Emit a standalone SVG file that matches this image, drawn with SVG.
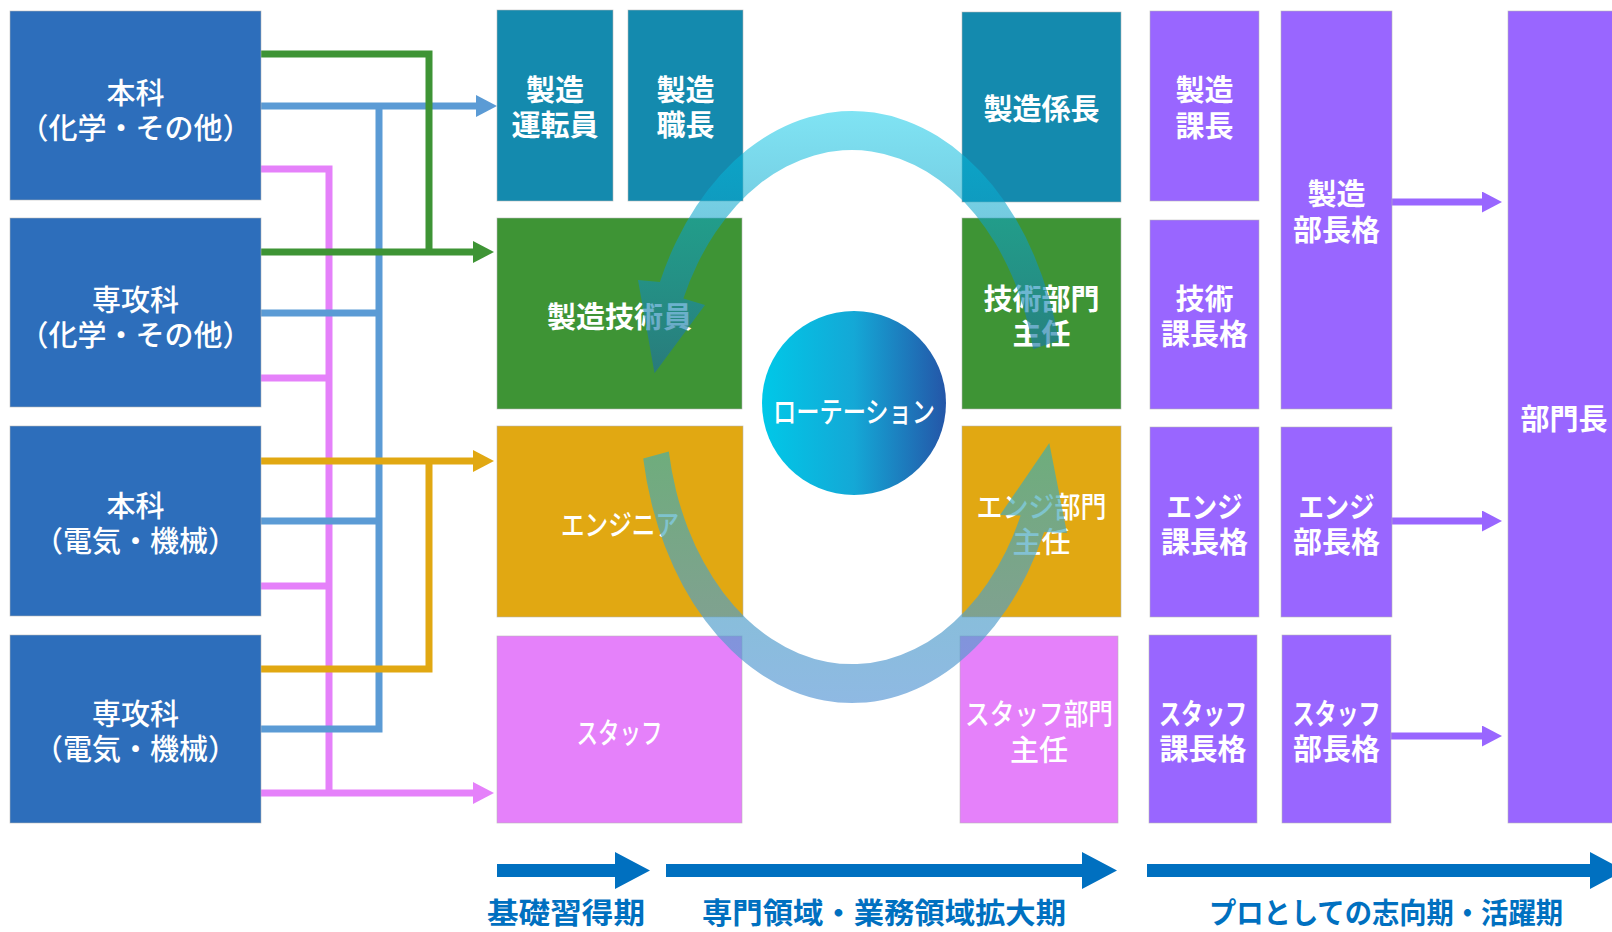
<svg xmlns="http://www.w3.org/2000/svg" width="1612" height="932" viewBox="0 0 1612 932">
<defs>
<style>
.t{font-family:"Noto Sans CJK JP","Noto Sans CJK SC",sans-serif;fill:#fff;text-anchor:middle;dominant-baseline:central;font-size:29px;font-weight:500}
.b{font-weight:bold}
.box{stroke:#b8b8b8;stroke-width:0.8;stroke-opacity:0.7}
.src{fill:#2D6EBB}
.teal{fill:#148AAE}
.grn{fill:#3E9435}
.org{fill:#E1A812}
.pnk{fill:#E581FA}
.pur{fill:#9966FF}
.c{fill:none;stroke-width:7}
.tl{font-family:"Noto Sans CJK JP","Noto Sans CJK SC",sans-serif;fill:#0070C0;font-weight:bold;font-size:29px;text-anchor:middle;dominant-baseline:central}
</style>
<marker id="mBlue" markerUnits="userSpaceOnUse" markerWidth="21" markerHeight="22" viewBox="0 0 21 22" refX="0" refY="11" orient="auto"><path d="M0,0 L21,11 L0,22 Z" fill="#5B9BD5"/></marker>
<marker id="mGreen" markerUnits="userSpaceOnUse" markerWidth="21" markerHeight="22" viewBox="0 0 21 22" refX="0" refY="11" orient="auto"><path d="M0,0 L21,11 L0,22 Z" fill="#3E9435"/></marker>
<marker id="mOrange" markerUnits="userSpaceOnUse" markerWidth="21" markerHeight="22" viewBox="0 0 21 22" refX="0" refY="11" orient="auto"><path d="M0,0 L21,11 L0,22 Z" fill="#E1A812"/></marker>
<marker id="mPink" markerUnits="userSpaceOnUse" markerWidth="21" markerHeight="22" viewBox="0 0 21 22" refX="0" refY="11" orient="auto"><path d="M0,0 L21,11 L0,22 Z" fill="#E581FA"/></marker>
<marker id="mPurple" markerUnits="userSpaceOnUse" markerWidth="20" markerHeight="21" viewBox="0 0 20 21" refX="0" refY="10.5" orient="auto"><path d="M0,0 L20,10.5 L0,21 Z" fill="#9966FF"/></marker>
<linearGradient id="gCircle" x1="0" y1="0" x2="1" y2="0"><stop offset="0" stop-color="#00C8E8"/><stop offset="0.5" stop-color="#14A8D6"/><stop offset="1" stop-color="#2456A8"/></linearGradient>
<linearGradient id="gUp" gradientUnits="userSpaceOnUse" x1="0" y1="110" x2="0" y2="375"><stop offset="0" stop-color="#00C8E8" stop-opacity="0.5"/><stop offset="1" stop-color="#1F6E9C" stop-opacity="0.68"/></linearGradient>
<linearGradient id="gLow" gradientUnits="userSpaceOnUse" x1="0" y1="440" x2="0" y2="705"><stop offset="0" stop-color="#3CB0A8" stop-opacity="0.7"/><stop offset="0.6" stop-color="#4FA0C8" stop-opacity="0.68"/><stop offset="1" stop-color="#5A98D6" stop-opacity="0.68"/></linearGradient>
</defs>
<rect width="1612" height="932" fill="#fff"/>

<g id="connectors">
<path class="c" stroke="#E581FA" d="M261,169 H329 V793 M261,378 H329 M261,586 H329"/>
<path class="c" stroke="#E581FA" d="M261,793 H473" marker-end="url(#mPink)"/>
<path class="c" stroke="#5B9BD5" d="M379,106 V729 H261 M261,313 H379 M261,521 H379"/>
<path class="c" stroke="#5B9BD5" d="M261,106 H476" marker-end="url(#mBlue)"/>
<path class="c" stroke="#3E9435" d="M261,54 H429 V252"/>
<path class="c" stroke="#3E9435" d="M261,252 H473" marker-end="url(#mGreen)"/>
<path class="c" stroke="#E1A812" d="M429,461 V669 H261"/>
<path class="c" stroke="#E1A812" d="M261,461 H473" marker-end="url(#mOrange)"/>
<path class="c" stroke="#9966FF" d="M1392,202 H1482" marker-end="url(#mPurple)"/>
<path class="c" stroke="#9966FF" d="M1392,521 H1482" marker-end="url(#mPurple)"/>
<path class="c" stroke="#9966FF" d="M1391,736 H1482" marker-end="url(#mPurple)"/>
</g>

<g id="src1"><rect class="box src" x="10" y="11" width="251" height="189"/><text class="t" x="135.5" y="91">本科</text><text class="t" x="135.5" y="126">（化学・その他）</text></g>
<g id="src2"><rect class="box src" x="10" y="218" width="251" height="189"/><text class="t" x="135.5" y="298">専攻科</text><text class="t" x="135.5" y="333">（化学・その他）</text></g>
<g id="src3"><rect class="box src" x="10" y="426" width="251" height="190"/><text class="t" x="135.5" y="504">本科</text><text class="t" x="135.5" y="539">（電気・機械）</text></g>
<g id="src4"><rect class="box src" x="10" y="635" width="251" height="188"/><text class="t" x="135.5" y="712">専攻科</text><text class="t" x="135.5" y="747">（電気・機械）</text></g>

<g id="operator"><rect class="box teal" x="497" y="10" width="116" height="191"/><text class="t b" x="555" y="88">製造</text><text class="t b" x="555" y="123">運転員</text></g>
<g id="foreman"><rect class="box teal" x="628" y="10" width="115" height="191"/><text class="t b" x="685.5" y="88">製造</text><text class="t b" x="685.5" y="123">職長</text></g>
<g id="mfg-tech"><rect class="box grn" x="497" y="218" width="245" height="191"/><text class="t b" x="619.5" y="315">製造技術員</text></g>
<g id="engineer"><rect class="box org" x="497" y="426" width="246" height="191"/><text class="t" x="620" y="523" textLength="118" lengthAdjust="spacingAndGlyphs">エンジニア</text></g>
<g id="staff"><rect class="box pnk" x="497" y="636" width="245" height="187"/><text class="t" x="619.5" y="731" textLength="86" lengthAdjust="spacingAndGlyphs">スタッフ</text></g>

<g id="mfg-chief"><rect class="box teal" x="962" y="12" width="159" height="190"/><text class="t b" x="1041.5" y="107">製造係長</text></g>
<g id="tech-lead"><rect class="box grn" x="962" y="218" width="159" height="191"/><text class="t b" x="1041.5" y="297">技術部門</text><text class="t b" x="1041.5" y="332">主任</text></g>
<g id="eng-lead"><rect class="box org" x="962" y="426" width="159" height="191"/><text class="t" x="1041.5" y="505" textLength="130" lengthAdjust="spacingAndGlyphs">エンジ部門</text><text class="t" x="1041.5" y="540">主任</text></g>
<g id="staff-lead"><rect class="box pnk" x="960" y="636" width="158" height="187"/><text class="t" x="1039" y="712" textLength="148" lengthAdjust="spacingAndGlyphs">スタッフ部門</text><text class="t" x="1039" y="748">主任</text></g>

<g id="mfg-mgr"><rect class="box pur" x="1150" y="11" width="109" height="190"/><text class="t b" x="1204.5" y="88">製造</text><text class="t b" x="1204.5" y="124">課長</text></g>
<g id="tech-mgr"><rect class="box pur" x="1150" y="220" width="109" height="189"/><text class="t b" x="1204.5" y="297">技術</text><text class="t b" x="1204.5" y="332">課長格</text></g>
<g id="eng-mgr"><rect class="box pur" x="1150" y="427" width="109" height="190"/><text class="t b" x="1204.5" y="505" textLength="76" lengthAdjust="spacingAndGlyphs">エンジ</text><text class="t b" x="1204.5" y="540">課長格</text></g>
<g id="staff-mgr"><rect class="box pur" x="1149" y="635" width="108" height="188"/><text class="t b" x="1203" y="712" textLength="88" lengthAdjust="spacingAndGlyphs">スタッフ</text><text class="t b" x="1203" y="747">課長格</text></g>

<g id="mfg-gm"><rect class="box pur" x="1281" y="11" width="111" height="398"/><text class="t b" x="1336.5" y="192">製造</text><text class="t b" x="1336.5" y="228">部長格</text></g>
<g id="eng-gm"><rect class="box pur" x="1281" y="427" width="111" height="190"/><text class="t b" x="1336.5" y="505" textLength="76" lengthAdjust="spacingAndGlyphs">エンジ</text><text class="t b" x="1336.5" y="540">部長格</text></g>
<g id="staff-gm"><rect class="box pur" x="1282" y="635" width="109" height="188"/><text class="t b" x="1336.5" y="712" textLength="88" lengthAdjust="spacingAndGlyphs">スタッフ</text><text class="t b" x="1336.5" y="747">部長格</text></g>

<g id="head"><rect class="box pur" x="1508" y="11" width="112" height="812"/><text class="t b" x="1564" y="417">部門長</text></g>

<g id="rotation">
<circle cx="854" cy="403" r="92" fill="url(#gCircle)"/>
<text class="t" x="854" y="410" font-size="25" textLength="162" lengthAdjust="spacingAndGlyphs">ローテーション</text>
</g>

<g id="cycle">
<path fill="url(#gUp)" d="M1058.6,340.4 A212,296 0 0 0 659.9,281.9 L638,280 L654.5,373.3 L705,305 L683.4,298.4 A186,257 0 0 1 1033.2,349.2 Z"/>
<path fill="url(#gLow)" d="M643.2,458.4 A212,296 0 0 0 1044.1,532.1 L1067,533 L1049.3,443.1 L1000,515 L1020.6,515.6 A186,257 0 0 1 668.8,451.6 Z"/>
</g>

<g id="timeline">
<polygon fill="#0070C0" points="497,864 615,864 615,852 650,870.5 615,889 615,877 497,877"/>
<polygon fill="#0070C0" points="666,864 1082,864 1082,852 1117,870.5 1082,889 1082,877 666,877"/>
<polygon fill="#0070C0" points="1147,864 1590,864 1590,852 1625,870.5 1590,889 1590,877 1147,877"/>
<text class="tl" x="566" y="911" textLength="158" lengthAdjust="spacingAndGlyphs">基礎習得期</text>
<text class="tl" x="884" y="911" textLength="364" lengthAdjust="spacingAndGlyphs">専門領域・業務領域拡大期</text>
<text class="tl" x="1386" y="911" textLength="354" lengthAdjust="spacingAndGlyphs">プロとしての志向期・活躍期</text>
</g>
</svg>
